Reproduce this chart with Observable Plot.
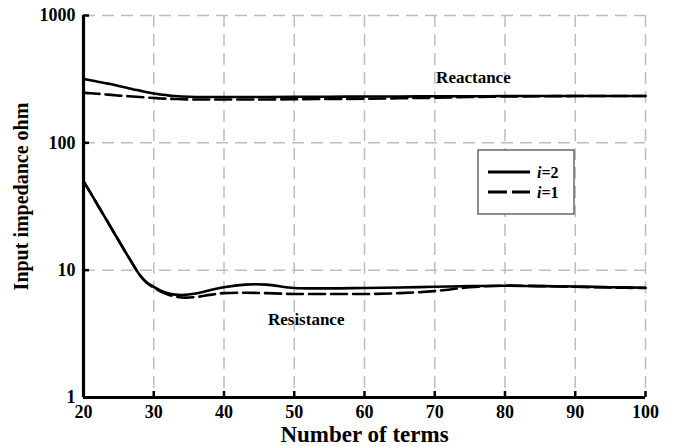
<!DOCTYPE html>
<html><head><meta charset="utf-8">
<script src="https://cdn.jsdelivr.net/npm/d3@7"></script>
<script src="https://cdn.jsdelivr.net/npm/@observablehq/plot@0.6"></script>
<style>body{margin:0;background:#fff}#chart{position:relative;width:676px;height:446px}</style>
</head><body><div id="chart"></div>
<script>
const terms = [20,21,22,23,24,25,26,27,28,29,30,31,32,33,34,36,38,40,43,46,50,55,60,65,70,75,80,85,90,95,100];
const reactanceI2 = [318,310,302,295,288,280,272,264,257,250,244,240,236,233,231,229,229,229,229,229,230,230,231,231,232,232,233,233,233,233,233];
const reactanceI1 = [248,245,243,240,238,235,233,231,229,227,225,223,222,221,220,219,219,219,219,219,220,221,222,224,226,229,231,232,233,233,233];
const resistanceI2 = [50,40.4,32.6,26.3,21.2,17.1,13.8,11.2,9.2,8.0,7.4,6.9,6.6,6.43,6.38,6.55,6.95,7.35,7.7,7.7,7.25,7.2,7.25,7.3,7.4,7.5,7.55,7.5,7.45,7.35,7.28];
const resistanceI1 = [50,40.4,32.6,26.3,21.2,17.1,13.8,11.2,9.15,7.95,7.3,6.8,6.45,6.22,6.1,6.15,6.4,6.6,6.65,6.6,6.5,6.5,6.5,6.6,6.85,7.35,7.55,7.5,7.4,7.3,7.25];
const xTicks = [20,30,40,50,60,70,80,90,100];
const yTicks = [1,10,100,1000];
const yTickLabels = ["1","10","100","1000"];
const seriesNames = ["=2","=1"];
const annotations = [{label:"Reactance", x:75.5, y:328},{label:"Resistance", x:51.7, y:4.1}];
const xTitle = "Number of terms";
const yTitle = "Input impedance ohm";

const W = 676, H = 446, mL = 83, mR = 31, mT = 15, mB = 49;
const fw = W - mL - mR, fh = H - mT - mB;

const rows = [];
terms.forEach((t, i) => {
  rows.push({t, v: reactanceI2[i], q: "reactance", s: "i2"});
  rows.push({t, v: resistanceI2[i], q: "resistance", s: "i2"});
  rows.push({t, v: reactanceI1[i], q: "reactance", s: "i1"});
  rows.push({t, v: resistanceI1[i], q: "resistance", s: "i1"});
});

const font = "Liberation Serif";
const txt = {fontFamily: font, fontWeight: "bold", fill: "#000"};
const plot = Plot.plot({
  width: W, height: H,
  marginLeft: mL, marginRight: mR, marginTop: mT, marginBottom: mB,
  style: {fontFamily: font, fontWeight: "bold", background: "#fff", color: "#000"},
  x: {domain: [20, 100], axis: null},
  y: {type: "log", domain: [1, 1000], axis: null},
  marks: [
    Plot.ruleX(xTicks, {x: d => d, stroke: "#bdbdbd", strokeWidth: 1.5, strokeDasharray: "12,7"}),
    Plot.ruleY(yTicks, {y: d => d, stroke: "#bdbdbd", strokeWidth: 1.5, strokeDasharray: "12,7"}),
    Plot.line(rows.filter(d => d.s === "i2"), {x: "t", y: "v", z: "q", stroke: "#000", strokeWidth: 2.6, curve: "catmull-rom"}),
    Plot.line(rows.filter(d => d.s === "i1"), {x: "t", y: "v", z: "q", stroke: "#000", strokeWidth: 2.6, strokeDasharray: "16,6", curve: "catmull-rom"}),
    Plot.tickX(xTicks, {x: d => d, insetTop: fh - 6, stroke: "#000", strokeWidth: 2.5}),
    Plot.tickY(yTicks, {y: d => d, insetRight: fw - 6, stroke: "#000", strokeWidth: 2.5}),
    Plot.ruleX([20], {stroke: "#000", strokeWidth: 3.2}),
    Plot.ruleY([1], {stroke: "#000", strokeWidth: 3.2}),
    Plot.text(xTicks, {x: d => d, frameAnchor: "bottom", textAnchor: "middle", lineAnchor: "middle", dy: 15, fontSize: 18, ...txt}),
    Plot.text(yTicks, {y: d => d, text: (d, i) => yTickLabels[i], frameAnchor: "left", textAnchor: "end", lineAnchor: "middle", dx: -8, fontSize: 18, ...txt}),
    Plot.text(annotations, {x: "x", y: "y", text: "label", textAnchor: "middle", lineAnchor: "middle", fontSize: 17, ...txt}),
    Plot.text([xTitle], {frameAnchor: "bottom", textAnchor: "middle", lineAnchor: "middle", dy: 37, fontSize: 23, ...txt}),
    Plot.text([yTitle], {frameAnchor: "left", textAnchor: "middle", lineAnchor: "middle", dx: -62, dy: -10, rotate: -90, fontSize: 20, ...txt})
  ]
});
document.getElementById("chart").appendChild(plot);

// in-plot legend
const svg = d3.select(plot);
const g = svg.append("g").attr("font-family", font).attr("font-weight", "bold").attr("text-anchor", "start");
g.append("rect").attr("x", 478).attr("y", 150).attr("width", 96).attr("height", 64)
  .attr("fill", "#fff").attr("stroke", "#444").attr("stroke-width", 1.2);
const dashes = [null, "19,5"];
seriesNames.forEach((name, i) => {
  const y = 172 + i * 20;
  g.append("line").attr("x1", 488).attr("x2", 530).attr("y1", y).attr("y2", y)
    .attr("stroke", "#000").attr("stroke-width", 3).attr("stroke-dasharray", dashes[i]);
  const t = g.append("text").attr("x", 537).attr("y", y + 5.5).attr("font-size", 16)
    .attr("fill", "#000").attr("text-anchor", "start");
  t.append("tspan").attr("font-style", "italic").text("i");
  t.append("tspan").text(name);
});
</script>
</body></html>
